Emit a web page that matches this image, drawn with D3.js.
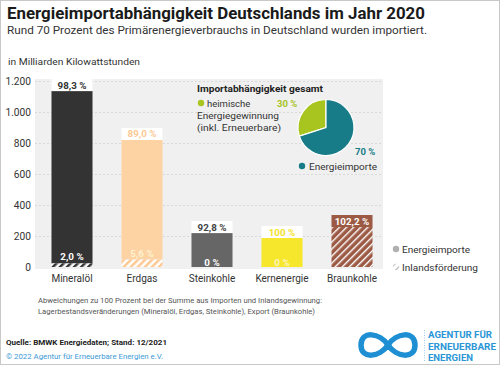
<!DOCTYPE html>
<html>
<head>
<meta charset="utf-8">
<script src="https://cdn.jsdelivr.net/npm/d3@7"></script>
<style>
  body { margin: 0; background: #fff; }
  text { font-family: Roboto, "Noto Sans", sans-serif; }
</style>
</head>
<body>
<svg id="chart" width="500" height="365"></svg>
<script>
// data
const categories = ["Mineralöl", "Erdgas", "Steinkohle", "Kernenergie", "Braunkohle"];
const totalTWh = [1135, 820, 219, 187, 258];
const domesticTWh = [23, 48, 0, 0, 258];
const importLabels = ["98,3 %", "89,0 %", "92,8 %", "100 %", "102,2 %"];
const domesticLabels = ["2,0 %", "5,6 %", "0 %", "0 %", ""];
const yTicks = [0, 200, 400, 600, 800, 1000, 1200];
const pieNames = ["heimische Energiegewinnung", "Energieimporte"];
const pieShares = [30, 70];

const barColors = ["#333333", "#fdd3a3", "#666666", "#f6e62c", "#9c5a44"];
const topTextColors = ["#333333", "#fcc993", "#444444", "#f3e22a", "#ffffff"];
const topBoxColors = ["#fff", "#fff", "#fff", "#fff", "#9c5a44"];
const pieColors = ["#a8c41f", "#177c88"];

const de = d3.formatLocale({decimal: ",", thousands: ".", grouping: [3], currency: ["", " €"]});

const svg = d3.select("#chart");
const defs = svg.append("defs");

// hatch patterns
function hatch(id, bg, fg, w) {
    const p = defs.append("pattern")
        .attr("id", id)
        .attr("patternUnits", "userSpaceOnUse")
        .attr("width", 5).attr("height", 5)
        .attr("patternTransform", "rotate(45)");
    p.append("rect").attr("width", 5).attr("height", 5).attr("fill", bg);
    p.append("rect").attr("width", w).attr("height", 5).attr("fill", fg);
}
hatch("h0", "#ffffff", "#333333", 2.5);
hatch("h1", "#ffffff", "#fdc891", 2.5);
hatch("h4", "#9c5a44", "#ffffff", 1.4);
hatch("hleg", "#ffffff", "#bbbbbb", 1.5);
const hatchIds = ["h0", "h1", "h0", "h0", "h4"];

// text helper, stretched to the width measured on the original
function label(xp, yp, size, txt, opts) {
    opts = opts || {};
    const t = svg.append("text").attr("x", xp).attr("y", yp)
        .attr("font-size", size).attr("fill", opts.fill || "#333")
        .attr("font-weight", opts.bold ? "bold" : null)
        .text(txt);
    if (opts.len) t.attr("textLength", opts.len).attr("lengthAdjust", "spacingAndGlyphs");
    return t;
}

// frame
svg.append("rect").attr("x", 0.5).attr("y", 0.5).attr("width", 499).attr("height", 364)
    .attr("fill", "none").attr("stroke", "#c8c8c8");

// titles
label(7, 19, 16.5, "Energieimportabhängigkeit Deutschlands im Jahr 2020", {bold: true, fill: "#1a1a1a", len: 418});
label(7, 34, 11.4, "Rund 70 Prozent des Primärenergieverbrauchs in Deutschland wurden importiert.", {len: 420});
label(8, 65, 8.8, "in Milliarden Kilowattstunden", {len: 132});

// scales
const x = d3.scaleBand().domain(categories).range([37, 387]).paddingInner(0.414).paddingOuter(0.207);
const y = d3.scaleLinear().domain([0, 1200]).range([267, 81]);

// plot background
svg.append("rect").attr("x", 35).attr("y", 79).attr("width", 348).attr("height", 190)
    .attr("fill", "#f0f0f0");

// grid
svg.append("g").selectAll("line").data(yTicks.slice(1)).join("line")
    .attr("x1", 35).attr("x2", 383)
    .attr("y1", d => Math.round(y(d)) + 0.5).attr("y2", d => Math.round(y(d)) + 0.5)
    .attr("stroke", "#d9d9d9").attr("stroke-dasharray", "2,2");

// y axis
const yAxis = svg.append("g").attr("transform", "translate(31,0)")
    .call(d3.axisLeft(y).tickValues(yTicks).tickSize(0).tickPadding(0).tickFormat(de.format(",")));
yAxis.select(".domain").remove();
yAxis.selectAll("text").attr("font-size", 10.2).attr("fill", "#333").attr("dy", "0.35em")
    .style("font-family", "Roboto, sans-serif");

// bars
const bars = svg.append("g");
categories.forEach((c, i) => {
    const bx = x(c), bw = x.bandwidth();
    const imp = totalTWh[i] - domesticTWh[i];
    if (imp > 0) {
        bars.append("rect").attr("x", bx).attr("width", bw)
            .attr("y", y(totalTWh[i])).attr("height", y(domesticTWh[i]) - y(totalTWh[i]))
            .attr("fill", barColors[i]);
    }
    if (domesticTWh[i] > 0) {
        bars.append("rect").attr("x", bx).attr("width", bw)
            .attr("y", y(domesticTWh[i])).attr("height", y(0) - y(domesticTWh[i]))
            .attr("fill", "url(#" + hatchIds[i] + ")");
    }
    // label box above the bar
    const top = y(totalTWh[i]);
    bars.append("rect").attr("x", bx).attr("width", bw).attr("y", top - 12).attr("height", 12)
        .attr("fill", topBoxColors[i]);
    bars.append("text").attr("x", bx + bw / 2).attr("y", top - 2.5)
        .attr("text-anchor", "middle").attr("font-size", 9.8).attr("font-weight", "bold")
        .attr("fill", topTextColors[i]).text(importLabels[i]);
    // share of domestic production
    if (domesticLabels[i]) {
        const by = domesticTWh[i] > 0 ? y(domesticTWh[i]) - 3 : y(0) - 1.5;
        bars.append("text").attr("x", bx + bw / 2).attr("y", by)
            .attr("text-anchor", "middle").attr("font-size", 9.8).attr("font-weight", "bold")
            .attr("fill", i == 1 || i == 3 ? "#fff8d8" : "#ffffff")
            .attr("opacity", i == 1 || i == 3 ? 0.85 : 1)
            .text(domesticLabels[i]);
    }
});

// category labels
svg.append("g").selectAll("text").data(categories).join("text")
    .attr("x", d => x(d) + x.bandwidth() / 2).attr("y", 282)
    .attr("text-anchor", "middle").attr("font-size", 10).attr("fill", "#333")
    .text(d => d);

// pie
const pie = d3.pie().sort(null).startAngle(-pieShares[0] / 100 * 2 * Math.PI).endAngle(2 * Math.PI - pieShares[0] / 100 * 2 * Math.PI);
const arc = d3.arc().innerRadius(0).outerRadius(28);
svg.append("g").attr("transform", "translate(326,127.5)")
    .selectAll("path").data(pie(pieShares)).join("path")
    .attr("d", arc).attr("fill", (d, i) => pieColors[i])
    .attr("stroke", "#fff").attr("stroke-width", 1.2);

label(197, 92, 9.3, "Importabhängigkeit gesamt", {bold: true, fill: "#222", len: 126});
svg.append("circle").attr("cx", 201).attr("cy", 103).attr("r", 3.2).attr("fill", pieColors[0]);
label(207, 106.5, 9.5, "heimische");
label(197, 118.5, 9.5, "Energiegewinnung", {len: 82});
label(197, 130.5, 9.5, "(inkl. Erneuerbare)", {len: 84});
label(277, 106.5, 9.5, pieShares[0] + " %", {bold: true, fill: pieColors[0]});
label(355, 154.5, 9.5, pieShares[1] + " %", {bold: true, fill: pieColors[1]});
svg.append("circle").attr("cx", 302).attr("cy", 166).attr("r", 3.2).attr("fill", pieColors[1]);
label(309, 169.5, 9.7, pieNames[1], {len: 68});

// right legend
svg.append("circle").attr("cx", 396).attr("cy", 249).attr("r", 3.2).attr("fill", "#b0b0b0");
label(402, 252.5, 9.5, "Energieimporte", {len: 68});
svg.append("circle").attr("cx", 396).attr("cy", 267).attr("r", 3.2).attr("fill", "url(#hleg)");
label(402, 270.5, 9.5, "Inlandsförderung", {len: 76});

// notes
label(38, 303, 7.4, "Abweichungen zu 100 Prozent bei der Summe aus Importen und Inlandsgewinnung:", {fill: "#555", len: 284});
label(38, 314, 7.4, "Lagerbestandsveränderungen (Mineralöl, Erdgas, Steinkohle), Export (Braunkohle)", {fill: "#555", len: 277});
label(6, 345, 7.8, "Quelle: BMWK Energiedaten; Stand: 12/2021", {bold: true, fill: "#222", len: 161});
label(6, 359, 7.8, "© 2022 Agentur für Erneuerbare Energien e.V.", {fill: "#3d9ad6", len: 157});

// logo
svg.append("path")
    .attr("d", "M388,345 C380,333 361,330 361,345 C361,360 380,357 388,345 C396,333 415,330 415,345 C415,360 396,357 388,345 Z")
    .attr("fill", "none").attr("stroke", "#1e8fd2").attr("stroke-width", 5.5);
svg.append("line").attr("x1", 424.5).attr("x2", 424.5).attr("y1", 330).attr("y2", 361)
    .attr("stroke", "#9cc9ea").attr("stroke-dasharray", "1,1.5");
const logoLines = ["AGENTUR FÜR", "ERNEUERBARE", "ENERGIEN"];
const logoLens = [64, 68, 45];
logoLines.forEach((t, i) => {
    label(428, 338 + i * 11.5, 9.6, t, {bold: true, fill: "#2b96d6", len: logoLens[i]});
});
</script>
</body>
</html>
